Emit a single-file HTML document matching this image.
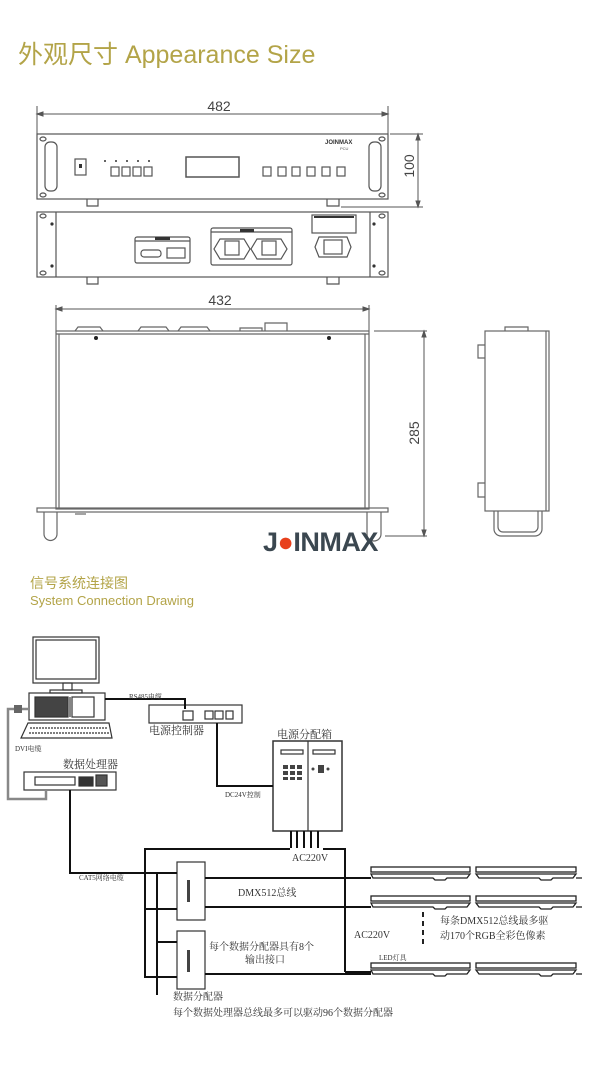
<!DOCTYPE html>
<html><head><meta charset="utf-8"><style>
body{margin:0;background:#fff;}
svg{display:block}
.t{font-family:"Liberation Sans","Noto Sans CJK SC",sans-serif;}
.s{font-family:"Liberation Serif","Noto Serif CJK SC",serif;fill:#333;}
</style></head><body>
<svg width="600" height="1078" viewBox="0 0 600 1078" xmlns="http://www.w3.org/2000/svg">
<rect width="600" height="1078" fill="#fff"/>
<text x="18" y="63" class="t" font-size="25" fill="#b3a448">外观尺寸 Appearance Size</text>

<g stroke="#555" stroke-width="1" fill="none">
<line x1="37" y1="114" x2="388" y2="114"/>
<line x1="37" y1="106" x2="37" y2="134"/><line x1="388" y1="106" x2="388" y2="134"/>
<path d="M37 114l6-2v4zM388 114l-6-2v4z" fill="#555"/>
</g>
<text x="219" y="111" class="t" font-size="14" fill="#444" text-anchor="middle">482</text>
<g stroke="#555" stroke-width="1.2" fill="none">
<rect x="37" y="134" width="351" height="65"/>
<rect x="45" y="142" width="12" height="49" rx="5"/>
<rect x="369" y="142" width="12" height="49" rx="5"/>
<ellipse cx="43" cy="139" rx="3" ry="2"/><ellipse cx="43" cy="195" rx="3" ry="2"/>
<ellipse cx="382" cy="139" rx="3" ry="2"/><ellipse cx="382" cy="195" rx="3" ry="2"/>
<rect x="75" y="159" width="11" height="16"/>
<rect x="186" y="157" width="53" height="20" stroke-width="1.5"/>
<rect x="111" y="167" width="8" height="9"/><rect x="122" y="167" width="8" height="9"/><rect x="133" y="167" width="8" height="9"/><rect x="144" y="167" width="8" height="9"/>
<rect x="263" y="167" width="8" height="9"/><rect x="278" y="167" width="8" height="9"/><rect x="292" y="167" width="8" height="9"/><rect x="307" y="167" width="8" height="9"/><rect x="322" y="167" width="8" height="9"/><rect x="337" y="167" width="8" height="9"/>
<path d="M87 199v7h11v-7M327 199v7h12v-7"/>
</g>
<rect x="79" y="164" width="3" height="4" fill="#333"/>
<g fill="#333"><circle cx="105" cy="161" r="1"/><circle cx="116" cy="161" r="1"/><circle cx="127" cy="161" r="1"/><circle cx="138" cy="161" r="1"/><circle cx="149" cy="161" r="1"/></g>
<text x="325" y="144" class="t" font-size="6" font-weight="bold" fill="#333">JOINMAX</text>
<text x="340" y="150" class="t" font-size="4" fill="#555">PCU</text>
<g stroke="#555" stroke-width="1" fill="none">
<line x1="390" y1="134" x2="423" y2="134"/><line x1="341" y1="207" x2="423" y2="207"/>
<line x1="418" y1="134" x2="418" y2="207"/>
<path d="M418 134l-2 6h4zM418 207l-2-6h4z" fill="#555"/>
</g>
<text transform="translate(414,166) rotate(-90)" class="t" font-size="14" fill="#444" text-anchor="middle">100</text>
<g stroke="#555" stroke-width="1.2" fill="none">
<rect x="37" y="212" width="351" height="65"/>
<line x1="56" y1="212" x2="56" y2="277"/><line x1="370" y1="212" x2="370" y2="277"/>
<ellipse cx="43" cy="216" rx="3" ry="2"/><ellipse cx="43" cy="273" rx="3" ry="2"/>
<ellipse cx="382" cy="216" rx="3" ry="2"/><ellipse cx="382" cy="273" rx="3" ry="2"/>
<rect x="135" y="237" width="55" height="26" rx="2"/>
<line x1="135" y1="241" x2="190" y2="241"/>
<rect x="141" y="250" width="20" height="7" rx="3"/><rect x="167" y="248" width="18" height="10"/>
<rect x="211" y="228" width="81" height="37" rx="2"/>
<line x1="211" y1="232" x2="292" y2="232"/>
<path d="M220 239h24l6 10-6 10h-24l-6-10z"/><path d="M257 239h24l6 10-6 10h-24l-6-10z"/>
<rect x="225" y="241" width="14" height="14"/><rect x="262" y="241" width="14" height="14"/>
<rect x="312" y="215" width="44" height="18"/>
<path d="M319 237h28l4 10-4 10h-28l-4-10z"/><rect x="324" y="240" width="18" height="14"/>
<path d="M87 277v7h11v-7M327 277v7h12v-7"/>
</g>
<g fill="#333"><circle cx="52" cy="224" r="1.6"/><circle cx="52" cy="266" r="1.6"/><circle cx="374" cy="224" r="1.6"/><circle cx="374" cy="266" r="1.6"/>
<rect x="240" y="229" width="14" height="3"/><rect x="155" y="237" width="15" height="3"/><rect x="314" y="216" width="40" height="2"/></g>

<g stroke="#555" stroke-width="1" fill="none">
<line x1="56" y1="309" x2="369" y2="309"/>
<line x1="56" y1="305" x2="56" y2="331"/><line x1="369" y1="305" x2="369" y2="331"/>
<path d="M56 309l6-2v4zM369 309l-6-2v4z" fill="#555"/>
</g>
<text x="220" y="305" class="t" font-size="14" fill="#444" text-anchor="middle">432</text>
<g stroke="#666" stroke-width="1.2" fill="none">
<rect x="56" y="331" width="313" height="178"/>
<line x1="59" y1="334" x2="59" y2="508"/><line x1="365" y1="334" x2="365" y2="508"/>
<line x1="56" y1="334" x2="369" y2="334"/>
<rect x="37" y="508" width="351" height="4"/>
<path d="M44 512v22a6 6 0 0 0 13 0v-22M367 512v22a6 6 0 0 0 14 0v-22"/>
<path d="M75 331l3-4h22l3 4M138 331l3-4h25l3 4M178 331l3-4h26l3 4M240 331v-3h22v3M265 331v-8h22v8"/>
<line x1="75" y1="514" x2="86" y2="514"/>
</g>
<g fill="#222"><circle cx="96" cy="338" r="2"/><circle cx="329" cy="338" r="2"/></g>
<g stroke="#555" stroke-width="1" fill="none">
<line x1="374" y1="331" x2="427" y2="331"/><line x1="385" y1="536" x2="427" y2="536"/>
<line x1="424" y1="331" x2="424" y2="536"/>
<path d="M424 331l-2 6h4zM424 536l-2-6h4z" fill="#555"/>
</g>
<text transform="translate(419,433) rotate(-90)" class="t" font-size="14" fill="#444" text-anchor="middle">285</text>
<g stroke="#666" stroke-width="1.2" fill="none">
<rect x="485" y="331" width="64" height="180"/>
<line x1="546" y1="331" x2="546" y2="511"/>
<path d="M505 331v-4h23v4"/>
<path d="M485 345h-7v13h7M485 483h-7v14h7"/>
<path d="M494 511v18a7 7 0 0 0 7 7h34a7 7 0 0 0 7-7v-18M498 511v16a5 5 0 0 0 5 5h30a5 5 0 0 0 5-5v-16"/>
</g>
<text x="263" y="551" class="t" font-size="27" font-weight="bold" fill="#3b4750" letter-spacing="-0.5">J<tspan fill="#e8401c">●</tspan>INMAX</text>

<text x="30" y="588" class="t" font-size="14" fill="#b3a448">信号系统连接图</text>
<text x="30" y="605" class="t" font-size="13" fill="#b3a448">System Connection Drawing</text>

<g stroke="#333" stroke-width="1.2" fill="none">
<rect x="33" y="637" width="66" height="46"/><rect x="36" y="640" width="60" height="39"/>
<rect x="63" y="683" width="9" height="7"/><rect x="50" y="690" width="32" height="3"/>
<rect x="29" y="693" width="76" height="27"/>
<rect x="35" y="697" width="33" height="20" fill="#444"/>
<line x1="70" y1="697" x2="70" y2="717"/><rect x="72" y="697" width="22" height="20"/>
<path d="M28 723h81l3 15h-91z"/><path d="M30 728h78M29 733h80" stroke-dasharray="2 1"/>
<rect x="149" y="705" width="93" height="18"/>
<rect x="183" y="711" width="10" height="9"/><rect x="205" y="711" width="8" height="8"/><rect x="215" y="711" width="8" height="8"/><rect x="226" y="711" width="7" height="8"/>
<rect x="273" y="741" width="69" height="90" stroke-width="1.5"/>
<line x1="308" y1="741" x2="308" y2="831"/>
<rect x="281" y="750" width="22" height="4"/><rect x="313" y="750" width="22" height="4"/>
<rect x="24" y="772" width="92" height="18"/>
<rect x="35" y="777" width="40" height="8"/><rect x="79" y="777" width="14" height="9" fill="#333"/><rect x="96" y="775" width="11" height="11" fill="#555"/>
<rect x="177" y="862" width="28" height="58"/><rect x="177" y="931" width="28" height="58"/>
</g>
<g fill="#444">
<rect x="283" y="765" width="5" height="4"/><rect x="290" y="765" width="5" height="4"/><rect x="297" y="765" width="5" height="4"/>
<rect x="283" y="771" width="5" height="4"/><rect x="290" y="771" width="5" height="4"/><rect x="297" y="771" width="5" height="4"/>
<rect x="283" y="777" width="5" height="3"/><rect x="290" y="777" width="5" height="3"/><rect x="297" y="777" width="5" height="3"/>
<rect x="318" y="765" width="6" height="8"/><circle cx="313" cy="769" r="1.5"/><circle cx="328" cy="769" r="1.5"/>
<rect x="187" y="880" width="3" height="22"/><rect x="187" y="950" width="3" height="22"/>
</g>
<g stroke="#111" stroke-width="2" fill="none">
<path d="M105 699H185v10"/>
<path d="M217 723v63h56"/>
<path d="M70 790v83h107"/>
<path d="M291 831v17M297 831v17M304 831v17M311 831v17M318 831v17"/>
<path d="M290 849H145v128h32"/><path d="M323 849h22v123"/>
<path d="M157 873v122"/><path d="M157 942h20"/><path d="M145 909h32"/>
<path d="M205 878h166M205 907h166M205 974h166"/><path d="M345 972h26"/>
</g>
<path d="M29 709H8v90h38v-9" stroke="#888" stroke-width="2.5" fill="none"/>
<rect x="14" y="705" width="8" height="8" fill="#666"/>
<g stroke="#222" stroke-width="1.3" fill="none">
<g id="row"><rect x="371" y="867" width="99" height="5"/><rect x="476" y="867" width="100" height="5"/>
<path d="M371 874h99l-3 4h-20l-2 2h-10l-2-2h-60zM476 874h100l-3 4h-20l-2 2h-10l-2-2h-60z"/>
<line x1="576" y1="878" x2="582" y2="878"/></g>
<use href="#row" y="29"/><use href="#row" y="96"/>
<line x1="423" y1="912" x2="423" y2="948" stroke-dasharray="5 4" stroke-width="2"/>
</g>
<g class="s">
<text x="129" y="699" font-size="7">RS485电缆</text>
<text x="149" y="734" font-size="11">电源控制器</text>
<text x="277" y="738" font-size="11">电源分配箱</text>
<text x="15" y="751" font-size="7">DVI电缆</text>
<text x="63" y="768" font-size="11">数据处理器</text>
<text x="225" y="797" font-size="7">DC24V控制</text>
<text x="292" y="861" font-size="10">AC220V</text>
<text x="79" y="880" font-size="7">CAT5网络电缆</text>
<text x="238" y="896" font-size="10">DMX512总线</text>
<text x="354" y="938" font-size="10">AC220V</text>
<text x="440" y="924" font-size="10">每条DMX512总线最多驱</text>
<text x="440" y="939" font-size="10">动170个RGB全彩色像素</text>
<text x="209" y="950" font-size="10">每个数据分配器具有8个</text>
<text x="245" y="963" font-size="10">输出接口</text>
<text x="379" y="960" font-size="7">LED灯具</text>
<text x="173" y="1000" font-size="10">数据分配器</text>
<text x="173" y="1016" font-size="10">每个数据处理器总线最多可以驱动96个数据分配器</text>
</g>
</svg>
</body></html>
